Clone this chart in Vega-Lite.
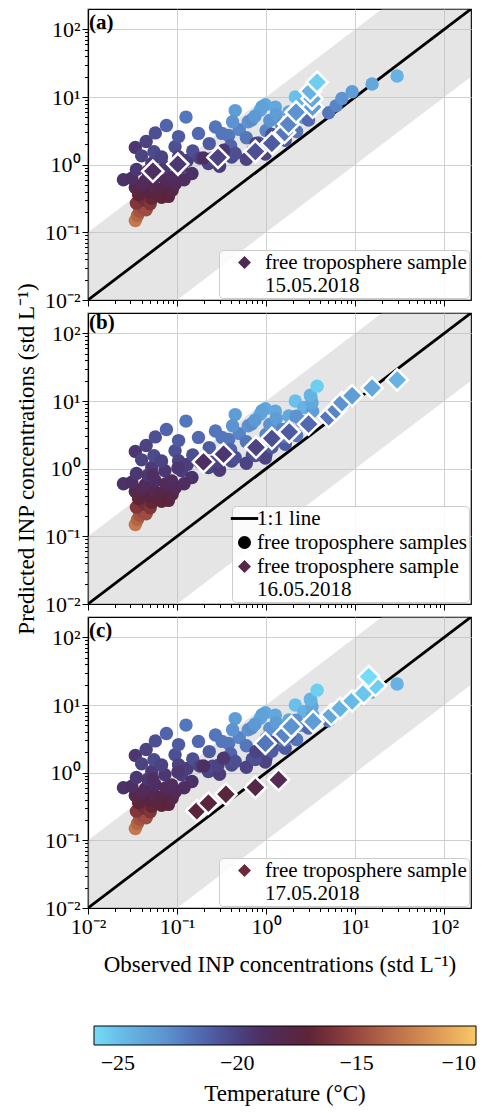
{
  "$schema": "https://vega.github.io/schema/vega-lite/v6.json",
  "background": "white",
  "padding": {"left": 14, "top": 8, "right": 5, "bottom": 5},
  "datasets": {
    "band": [{"obs": 0.01, "lo": 0.001, "hi": 0.1}, {"obs": 200, "lo": 20, "hi": 2000}],
    "diag": [{"obs": 0.01, "pred": 0.01}, {"obs": 200, "pred": 200}],
    "pts": [
      {"sample": "other", "obs": 0.034, "pred": 0.150, "T": -13},
      {"sample": "other", "obs": 0.036, "pred": 0.178, "T": -13.8},
      {"sample": "other", "obs": 0.038, "pred": 0.205, "T": -14.5},
      {"sample": "other", "obs": 0.041, "pred": 0.235, "T": -15},
      {"sample": "other", "obs": 0.045, "pred": 0.215, "T": -14.8},
      {"sample": "other", "obs": 0.035, "pred": 0.270, "T": -15.8},
      {"sample": "other", "obs": 0.043, "pred": 0.300, "T": -16.3},
      {"sample": "other", "obs": 0.050, "pred": 0.265, "T": -15.8},
      {"sample": "other", "obs": 0.052, "pred": 0.320, "T": -16.8},
      {"sample": "other", "obs": 0.037, "pred": 0.360, "T": -17},
      {"sample": "other", "obs": 0.046, "pred": 0.400, "T": -17.5},
      {"sample": "other", "obs": 0.060, "pred": 0.370, "T": -17.3},
      {"sample": "other", "obs": 0.067, "pred": 0.330, "T": -17},
      {"sample": "other", "obs": 0.034, "pred": 0.460, "T": -18},
      {"sample": "other", "obs": 0.041, "pred": 0.510, "T": -18.3},
      {"sample": "other", "obs": 0.055, "pred": 0.470, "T": -18},
      {"sample": "other", "obs": 0.070, "pred": 0.450, "T": -17.8},
      {"sample": "other", "obs": 0.080, "pred": 0.340, "T": -17.2},
      {"sample": "other", "obs": 0.088, "pred": 0.420, "T": -17.8},
      {"sample": "other", "obs": 0.095, "pred": 0.520, "T": -18.3},
      {"sample": "other", "obs": 0.025, "pred": 0.600, "T": -19.3},
      {"sample": "other", "obs": 0.031, "pred": 0.630, "T": -19},
      {"sample": "other", "obs": 0.044, "pred": 0.580, "T": -18.6},
      {"sample": "other", "obs": 0.057, "pred": 0.660, "T": -19},
      {"sample": "other", "obs": 0.075, "pred": 0.600, "T": -18.6},
      {"sample": "other", "obs": 0.087, "pred": 0.660, "T": -18.8},
      {"sample": "other", "obs": 0.047, "pred": 0.800, "T": -19.5},
      {"sample": "other", "obs": 0.035, "pred": 0.850, "T": -19.5},
      {"sample": "other", "obs": 0.073, "pred": 0.930, "T": -19.5},
      {"sample": "other", "obs": 0.113, "pred": 0.930, "T": -19.8},
      {"sample": "other", "obs": 0.147, "pred": 0.740, "T": -19.2},
      {"sample": "other", "obs": 0.120, "pred": 0.600, "T": -18.8},
      {"sample": "other", "obs": 0.052, "pred": 1.040, "T": -19.7},
      {"sample": "other", "obs": 0.034, "pred": 1.800, "T": -19.5},
      {"sample": "other", "obs": 0.045, "pred": 2.200, "T": -20},
      {"sample": "other", "obs": 0.057, "pred": 2.950, "T": -20.5},
      {"sample": "other", "obs": 0.076, "pred": 3.800, "T": -21.3},
      {"sample": "other", "obs": 0.126, "pred": 5.050, "T": -22},
      {"sample": "other", "obs": 0.040, "pred": 1.350, "T": -20},
      {"sample": "other", "obs": 0.055, "pred": 1.550, "T": -20.3},
      {"sample": "other", "obs": 0.067, "pred": 1.300, "T": -20},
      {"sample": "other", "obs": 0.095, "pred": 1.840, "T": -20.5},
      {"sample": "other", "obs": 0.104, "pred": 2.600, "T": -21},
      {"sample": "other", "obs": 0.104, "pred": 1.310, "T": -20},
      {"sample": "other", "obs": 0.130, "pred": 1.150, "T": -19.8},
      {"sample": "other", "obs": 0.150, "pred": 1.600, "T": -20.5},
      {"sample": "other", "obs": 0.174, "pred": 2.900, "T": -21.5},
      {"sample": "other", "obs": 0.225, "pred": 1.040, "T": -20},
      {"sample": "other", "obs": 0.230, "pred": 2.050, "T": -21},
      {"sample": "other", "obs": 0.270, "pred": 3.600, "T": -22},
      {"sample": "other", "obs": 0.320, "pred": 2.900, "T": -22},
      {"sample": "other", "obs": 0.250, "pred": 1.250, "T": -20.3},
      {"sample": "other", "obs": 0.410, "pred": 1.300, "T": -20.3},
      {"sample": "other", "obs": 0.380, "pred": 2.700, "T": -22},
      {"sample": "other", "obs": 0.400, "pred": 1.900, "T": -21.3},
      {"sample": "other", "obs": 0.450, "pred": 1.460, "T": -20.5},
      {"sample": "other", "obs": 0.500, "pred": 3.300, "T": -22.5},
      {"sample": "other", "obs": 0.450, "pred": 6.300, "T": -23.5},
      {"sample": "other", "obs": 0.420, "pred": 4.300, "T": -23},
      {"sample": "other", "obs": 0.630, "pred": 4.300, "T": -23},
      {"sample": "other", "obs": 0.690, "pred": 4.600, "T": -22.8},
      {"sample": "other", "obs": 0.600, "pred": 2.500, "T": -22},
      {"sample": "other", "obs": 0.700, "pred": 1.600, "T": -20.5},
      {"sample": "other", "obs": 0.820, "pred": 2.100, "T": -21},
      {"sample": "other", "obs": 0.860, "pred": 6.400, "T": -24},
      {"sample": "other", "obs": 0.980, "pred": 7.700, "T": -24},
      {"sample": "other", "obs": 0.900, "pred": 7.200, "T": -23.7},
      {"sample": "other", "obs": 0.750, "pred": 5.200, "T": -23.3},
      {"sample": "other", "obs": 1.000, "pred": 1.650, "T": -20.5},
      {"sample": "other", "obs": 1.000, "pred": 3.200, "T": -22.5},
      {"sample": "other", "obs": 1.100, "pred": 4.500, "T": -23},
      {"sample": "other", "obs": 1.270, "pred": 7.100, "T": -24},
      {"sample": "other", "obs": 1.300, "pred": 5.500, "T": -23.5},
      {"sample": "other", "obs": 1.200, "pred": 2.400, "T": -21.5},
      {"sample": "other", "obs": 1.640, "pred": 2.300, "T": -21},
      {"sample": "other", "obs": 1.500, "pred": 3.800, "T": -22.5},
      {"sample": "other", "obs": 1.800, "pred": 6.000, "T": -24},
      {"sample": "other", "obs": 2.130, "pred": 10.00, "T": -25},
      {"sample": "other", "obs": 2.640, "pred": 8.000, "T": -24.5},
      {"sample": "other", "obs": 2.500, "pred": 5.000, "T": -23.5},
      {"sample": "other", "obs": 3.200, "pred": 11.50, "T": -25},
      {"sample": "other", "obs": 2.200, "pred": 3.100, "T": -22},
      {"sample": "other", "obs": 0.300, "pred": 0.950, "T": -19.7},
      {"sample": "other", "obs": 0.180, "pred": 1.250, "T": -20},
      {"sample": "other", "obs": 0.600, "pred": 1.200, "T": -20},
      {"sample": "other", "obs": 0.980, "pred": 1.440, "T": -20},
      {"sample": "15.05.2018", "obs": 0.0535, "pred": 0.80, "T": -19},
      {"sample": "15.05.2018", "obs": 0.102, "pred": 1.02, "T": -19.5},
      {"sample": "15.05.2018", "obs": 0.288, "pred": 1.28, "T": -20},
      {"sample": "15.05.2018", "obs": 0.757, "pred": 1.57, "T": -20.5},
      {"sample": "15.05.2018", "obs": 1.16, "pred": 2.07, "T": -21},
      {"sample": "15.05.2018", "obs": 1.61, "pred": 3.0, "T": -22},
      {"sample": "15.05.2018", "obs": 1.79, "pred": 4.0, "T": -22.5},
      {"sample": "15.05.2018", "obs": 2.17, "pred": 5.96, "T": -23},
      {"sample": "15.05.2018", "obs": 3.33, "pred": 7.07, "T": -23.5},
      {"sample": "15.05.2018", "obs": 3.28, "pred": 9.4, "T": -24},
      {"sample": "15.05.2018", "obs": 3.14, "pred": 12.2, "T": -24.5},
      {"sample": "15.05.2018", "obs": 3.74, "pred": 16.6, "T": -25.5},
      {"sample": "16.05.2018", "obs": 0.198, "pred": 1.26, "T": -19},
      {"sample": "16.05.2018", "obs": 0.333, "pred": 1.64, "T": -19.5},
      {"sample": "16.05.2018", "obs": 0.77, "pred": 2.06, "T": -20},
      {"sample": "16.05.2018", "obs": 1.16, "pred": 2.8, "T": -20.5},
      {"sample": "16.05.2018", "obs": 1.82, "pred": 3.5, "T": -21},
      {"sample": "16.05.2018", "obs": 3.0, "pred": 4.57, "T": -21.5},
      {"sample": "16.05.2018", "obs": 5.05, "pred": 5.86, "T": -22},
      {"sample": "16.05.2018", "obs": 6.1, "pred": 7.4, "T": -22.5},
      {"sample": "16.05.2018", "obs": 7.1, "pred": 9.5, "T": -23},
      {"sample": "16.05.2018", "obs": 9.25, "pred": 12, "T": -23.5},
      {"sample": "16.05.2018", "obs": 15.5, "pred": 15.6, "T": -24},
      {"sample": "16.05.2018", "obs": 29.6, "pred": 20.5, "T": -24.5},
      {"sample": "17.05.2018", "obs": 0.167, "pred": 0.274, "T": -17.2},
      {"sample": "17.05.2018", "obs": 0.225, "pred": 0.355, "T": -17.2},
      {"sample": "17.05.2018", "obs": 0.354, "pred": 0.48, "T": -17.3},
      {"sample": "17.05.2018", "obs": 0.757, "pred": 0.605, "T": -17.8},
      {"sample": "17.05.2018", "obs": 1.38, "pred": 0.786, "T": -18.3},
      {"sample": "17.05.2018", "obs": 0.98, "pred": 2.72, "T": -22},
      {"sample": "17.05.2018", "obs": 1.61, "pred": 3.7, "T": -22.5},
      {"sample": "17.05.2018", "obs": 1.92, "pred": 4.8, "T": -23},
      {"sample": "17.05.2018", "obs": 3.37, "pred": 5.7, "T": -23.5},
      {"sample": "17.05.2018", "obs": 5.4, "pred": 7.2, "T": -24},
      {"sample": "17.05.2018", "obs": 6.8, "pred": 8.96, "T": -24.5},
      {"sample": "17.05.2018", "obs": 9.25, "pred": 11.5, "T": -24.8},
      {"sample": "17.05.2018", "obs": 12.5, "pred": 14.9, "T": -25.2},
      {"sample": "17.05.2018", "obs": 16.9, "pred": 19.4, "T": -25.5},
      {"sample": "17.05.2018", "obs": 14.2, "pred": 26.3, "T": -26}
    ]
  },
  "bounds": "flush",
  "spacing": 13,
  "resolve": {"scale": {"shape": "independent", "fill": "independent"}, "legend": {"shape": "independent", "fill": "independent"}},
  "vconcat": [
    {
      "width": 383, "height": 291,
      "title": {"text": "(a)", "anchor": "start", "frame": "group", "orient": "top", "offset": -2, "baseline": "top", "dx": 1, "dy": 22, "font": "Liberation Serif", "fontSize": 21, "fontWeight": "bold", "color": "black"},
      "layer": [
        {"data": {"name": "band"}, "mark": {"type": "area", "color": "#bfbfbf", "opacity": 0.4, "clip": true},
         "encoding": {
           "x": {"field": "obs", "type": "quantitative", "scale": {"type": "log", "domain": [0.01, 200], "nice": false},
                 "axis": {"values": [0.01,0.02,0.03,0.04,0.05,0.06,0.07,0.08,0.09,0.1,0.2,0.3,0.4,0.5,0.6,0.7,0.8,0.9,1,2,3,4,5,6,7,8,9,10,20,30,40,50,60,70,80,90,100], "labels": false, "title": null,
                          "tickSize": {"condition": {"test": "indexof([0.01,0.1,1,10,100], datum.value) >= 0", "value": 6}, "value": 3.5},
                          "gridOpacity": {"condition": {"test": "indexof([0.01,0.1,1,10,100], datum.value) >= 0", "value": 1}, "value": 0}}},
           "y": {"field": "lo", "type": "quantitative", "scale": {"type": "log", "domain": [0.01, 200], "nice": false},
                 "axis": {"values": [0.01,0.02,0.03,0.04,0.05,0.06,0.07,0.08,0.09,0.1,0.2,0.3,0.4,0.5,0.6,0.7,0.8,0.9,1,2,3,4,5,6,7,8,9,10,20,30,40,50,60,70,80,90,100], "title": null,
                          "labelExpr": "datum.value == 0.01 ? '10⁻²' : datum.value == 0.1 ? '10⁻¹' : datum.value == 1 ? '10⁰' : datum.value == 10 ? '10¹' : datum.value == 100 ? '10²' : ''",
                          "tickSize": {"condition": {"test": "indexof([0.01,0.1,1,10,100], datum.value) >= 0", "value": 6}, "value": 3.5},
                          "gridOpacity": {"condition": {"test": "indexof([0.01,0.1,1,10,100], datum.value) >= 0", "value": 1}, "value": 0}}},
           "y2": {"field": "hi"}
         }},
        {"data": {"name": "diag"}, "mark": {"type": "line", "color": "black", "strokeWidth": 2.8, "clip": true},
         "encoding": {"x": {"field": "obs", "type": "quantitative"}, "y": {"field": "pred", "type": "quantitative"}}},
        {"data": {"name": "pts"}, "transform": [{"filter": "datum.sample != '17.05.2018'"}],
         "mark": {"type": "point", "shape": "circle", "filled": true, "size": 180, "opacity": 1},
         "encoding": {"x": {"field": "obs", "type": "quantitative"}, "y": {"field": "pred", "type": "quantitative"},
           "color": {"field": "T", "type": "quantitative",
             "scale": {"domain": [-26, -24.5, -23, -21.5, -20.3, -19.2, -17.8, -17, -15.7, -14.3, -12.9, -11.5, -10],
                       "range": ["#74dcf8", "#66b2e2", "#5c93d0", "#5268b0", "#4a4a8c", "#4a3168", "#552748", "#5e2438", "#84383a", "#a85a44", "#c67a4e", "#e09c58", "#fac865"]},
             "legend": {"orient": "none", "direction": "horizontal", "legendX": 6, "legendY": 1017, "gradientLength": 382, "gradientThickness": 19,
                        "title": "Temperature (°C)", "titleOrient": "bottom", "titleAnchor": "middle", "titleFont": "Liberation Serif", "titleFontSize": 23, "titleFontWeight": "normal", "titleColor": "black", "titlePadding": 9,
                        "labelFont": "Liberation Serif", "labelFontSize": 22, "labelColor": "black", "values": [-25, -20, -15, -10], "labelAlign": "center", "labelOverlap": false, "labelOffset": 8,
                        "gradientStrokeColor": "black", "gradientStrokeWidth": 1}}}},
        {"data": {"name": "pts"}, "transform": [{"filter": "datum.sample == '15.05.2018'"}],
         "mark": {"type": "point", "shape": "diamond", "filled": true, "size": 450, "opacity": 1, "stroke": "white", "strokeWidth": 2.5},
         "encoding": {"x": {"field": "obs", "type": "quantitative"}, "y": {"field": "pred", "type": "quantitative"},
           "color": {"field": "T", "type": "quantitative"}}},
        {"data": {"name": "pts"}, "transform": [{"filter": "false"}],
         "mark": {"type": "point", "filled": true, "size": 170, "opacity": 1},
         "encoding": {"x": {"field": "obs", "type": "quantitative"}, "y": {"field": "pred", "type": "quantitative"},
           "shape": {"field": "sample", "type": "nominal", "scale": {"domain": ["15.05.2018"], "range": ["diamond"]},
             "legend": {"orient": "bottom-right", "offset": 2, "title": null, "labelFont": "Liberation Serif", "labelFontSize": 21, "labelColor": "black", "labelLimit": 0,
                        "labelExpr": "['free troposphere sample', datum.label]", "symbolSize": 170, "symbolOffset": 13, "labelOffset": 10, "fillColor": "rgba(255,255,255,0.85)", "strokeColor": "#cccccc", "cornerRadius": 4, "padding": 2}},
           "fill": {"field": "sample", "type": "nominal", "scale": {"domain": ["15.05.2018"], "range": ["#4e2a55"]},
             "legend": {"orient": "bottom-right", "offset": 2, "title": null, "labelFont": "Liberation Serif", "labelFontSize": 21, "labelColor": "black", "labelLimit": 0,
                        "labelExpr": "['free troposphere sample', datum.label]", "symbolSize": 170, "symbolOffset": 13, "labelOffset": 10, "fillColor": "rgba(255,255,255,0.85)", "strokeColor": "#cccccc", "cornerRadius": 4, "padding": 2}}}}
      ]
    },
    {
      "width": 383, "height": 291,
      "title": {"text": "(b)", "anchor": "start", "frame": "group", "orient": "top", "offset": -2, "baseline": "top", "dx": 1, "dy": 49, "font": "Liberation Serif", "fontSize": 21, "fontWeight": "bold", "color": "black"},
      "layer": [
        {"data": {"name": "band"}, "mark": {"type": "area", "color": "#bfbfbf", "opacity": 0.4, "clip": true},
         "encoding": {
           "x": {"field": "obs", "type": "quantitative", "scale": {"type": "log", "domain": [0.01, 200], "nice": false},
                 "axis": {"values": [0.01,0.02,0.03,0.04,0.05,0.06,0.07,0.08,0.09,0.1,0.2,0.3,0.4,0.5,0.6,0.7,0.8,0.9,1,2,3,4,5,6,7,8,9,10,20,30,40,50,60,70,80,90,100], "labels": false, "title": null,
                          "tickSize": {"condition": {"test": "indexof([0.01,0.1,1,10,100], datum.value) >= 0", "value": 6}, "value": 3.5},
                          "gridOpacity": {"condition": {"test": "indexof([0.01,0.1,1,10,100], datum.value) >= 0", "value": 1}, "value": 0}}},
           "y": {"field": "lo", "type": "quantitative", "scale": {"type": "log", "domain": [0.01, 200], "nice": false},
                 "axis": {"values": [0.01,0.02,0.03,0.04,0.05,0.06,0.07,0.08,0.09,0.1,0.2,0.3,0.4,0.5,0.6,0.7,0.8,0.9,1,2,3,4,5,6,7,8,9,10,20,30,40,50,60,70,80,90,100], "title": "Predicted INP concentrations (std L⁻¹)",
                          "labelExpr": "datum.value == 0.01 ? '10⁻²' : datum.value == 0.1 ? '10⁻¹' : datum.value == 1 ? '10⁰' : datum.value == 10 ? '10¹' : datum.value == 100 ? '10²' : ''",
                          "tickSize": {"condition": {"test": "indexof([0.01,0.1,1,10,100], datum.value) >= 0", "value": 6}, "value": 3.5},
                          "gridOpacity": {"condition": {"test": "indexof([0.01,0.1,1,10,100], datum.value) >= 0", "value": 1}, "value": 0}}},
           "y2": {"field": "hi"}
         }},
        {"data": {"name": "diag"}, "mark": {"type": "line", "color": "black", "strokeWidth": 2.8, "clip": true},
         "encoding": {"x": {"field": "obs", "type": "quantitative"}, "y": {"field": "pred", "type": "quantitative"}}},
        {"data": {"name": "pts"}, "transform": [{"filter": "datum.sample != '17.05.2018'"}],
         "mark": {"type": "point", "shape": "circle", "filled": true, "size": 180, "opacity": 1},
         "encoding": {"x": {"field": "obs", "type": "quantitative"}, "y": {"field": "pred", "type": "quantitative"},
           "color": {"field": "T", "type": "quantitative"}}},
        {"data": {"name": "pts"}, "transform": [{"filter": "datum.sample == '16.05.2018'"}],
         "mark": {"type": "point", "shape": "diamond", "filled": true, "size": 450, "opacity": 1, "stroke": "white", "strokeWidth": 2.5},
         "encoding": {"x": {"field": "obs", "type": "quantitative"}, "y": {"field": "pred", "type": "quantitative"},
           "color": {"field": "T", "type": "quantitative"}}},
        {"data": {"name": "pts"}, "transform": [{"filter": "false"}],
         "mark": {"type": "point", "filled": true, "size": 170, "opacity": 1},
         "encoding": {"x": {"field": "obs", "type": "quantitative"}, "y": {"field": "pred", "type": "quantitative"},
           "shape": {"field": "sample", "type": "nominal", "scale": {"domain": ["1:1 line", "free troposphere samples", "16.05.2018"], "range": ["M-2.1,-0.22L2.1,-0.22L2.1,0.22L-2.1,0.22Z", "circle", "diamond"]},
             "legend": {"orient": "bottom-right", "offset": 2, "title": null, "labelFont": "Liberation Serif", "labelFontSize": 21, "labelColor": "black", "labelLimit": 0,
                        "labelExpr": "datum.label == '16.05.2018' ? ['free troposphere sample', datum.label] : datum.label", "symbolSize": 170, "symbolOffset": 0, "labelOffset": 2, "rowPadding": 2, "fillColor": "rgba(255,255,255,0.85)", "strokeColor": "#cccccc", "cornerRadius": 4, "padding": 2}},
           "fill": {"field": "sample", "type": "nominal", "scale": {"domain": ["1:1 line", "free troposphere samples", "16.05.2018"], "range": ["black", "black", "#552848"]},
             "legend": {"orient": "bottom-right", "offset": 2, "title": null, "labelFont": "Liberation Serif", "labelFontSize": 21, "labelColor": "black", "labelLimit": 0,
                        "labelExpr": "datum.label == '16.05.2018' ? ['free troposphere sample', datum.label] : datum.label", "symbolSize": 170, "symbolOffset": 0, "labelOffset": 2, "rowPadding": 2, "fillColor": "rgba(255,255,255,0.85)", "strokeColor": "#cccccc", "cornerRadius": 4, "padding": 2}}}}
      ]
    },
    {
      "width": 383, "height": 291,
      "title": {"text": "(c)", "anchor": "start", "frame": "group", "orient": "top", "offset": -2, "baseline": "top", "dx": 1, "dy": 22, "font": "Liberation Serif", "fontSize": 21, "fontWeight": "bold", "color": "black"},
      "layer": [
        {"data": {"name": "band"}, "mark": {"type": "area", "color": "#bfbfbf", "opacity": 0.4, "clip": true},
         "encoding": {
           "x": {"field": "obs", "type": "quantitative", "scale": {"type": "log", "domain": [0.01, 200], "nice": false},
                 "axis": {"values": [0.01,0.02,0.03,0.04,0.05,0.06,0.07,0.08,0.09,0.1,0.2,0.3,0.4,0.5,0.6,0.7,0.8,0.9,1,2,3,4,5,6,7,8,9,10,20,30,40,50,60,70,80,90,100], "title": "Observed INP concentrations (std L⁻¹)", "titlePadding": 16,
                          "labelExpr": "datum.value == 0.01 ? '10⁻²' : datum.value == 0.1 ? '10⁻¹' : datum.value == 1 ? '10⁰' : datum.value == 10 ? '10¹' : datum.value == 100 ? '10²' : ''",
                          "tickSize": {"condition": {"test": "indexof([0.01,0.1,1,10,100], datum.value) >= 0", "value": 6}, "value": 3.5},
                          "gridOpacity": {"condition": {"test": "indexof([0.01,0.1,1,10,100], datum.value) >= 0", "value": 1}, "value": 0}}},
           "y": {"field": "lo", "type": "quantitative", "scale": {"type": "log", "domain": [0.01, 200], "nice": false},
                 "axis": {"values": [0.01,0.02,0.03,0.04,0.05,0.06,0.07,0.08,0.09,0.1,0.2,0.3,0.4,0.5,0.6,0.7,0.8,0.9,1,2,3,4,5,6,7,8,9,10,20,30,40,50,60,70,80,90,100], "title": null,
                          "labelExpr": "datum.value == 0.01 ? '10⁻²' : datum.value == 0.1 ? '10⁻¹' : datum.value == 1 ? '10⁰' : datum.value == 10 ? '10¹' : datum.value == 100 ? '10²' : ''",
                          "tickSize": {"condition": {"test": "indexof([0.01,0.1,1,10,100], datum.value) >= 0", "value": 6}, "value": 3.5},
                          "gridOpacity": {"condition": {"test": "indexof([0.01,0.1,1,10,100], datum.value) >= 0", "value": 1}, "value": 0}}},
           "y2": {"field": "hi"}
         }},
        {"data": {"name": "diag"}, "mark": {"type": "line", "color": "black", "strokeWidth": 2.8, "clip": true},
         "encoding": {"x": {"field": "obs", "type": "quantitative"}, "y": {"field": "pred", "type": "quantitative"}}},
        {"data": {"name": "pts"}, "transform": [{"filter": "datum.sample != '17.05.2018'"}],
         "mark": {"type": "point", "shape": "circle", "filled": true, "size": 180, "opacity": 1},
         "encoding": {"x": {"field": "obs", "type": "quantitative"}, "y": {"field": "pred", "type": "quantitative"},
           "color": {"field": "T", "type": "quantitative"}}},
        {"data": {"name": "pts"}, "transform": [{"filter": "datum.sample == '17.05.2018'"}],
         "mark": {"type": "point", "shape": "diamond", "filled": true, "size": 450, "opacity": 1, "stroke": "white", "strokeWidth": 2.5},
         "encoding": {"x": {"field": "obs", "type": "quantitative"}, "y": {"field": "pred", "type": "quantitative"},
           "color": {"field": "T", "type": "quantitative"}}},
        {"data": {"name": "pts"}, "transform": [{"filter": "false"}],
         "mark": {"type": "point", "filled": true, "size": 170, "opacity": 1},
         "encoding": {"x": {"field": "obs", "type": "quantitative"}, "y": {"field": "pred", "type": "quantitative"},
           "shape": {"field": "sample", "type": "nominal", "scale": {"domain": ["17.05.2018"], "range": ["diamond"]},
             "legend": {"orient": "bottom-right", "offset": 2, "title": null, "labelFont": "Liberation Serif", "labelFontSize": 21, "labelColor": "black", "labelLimit": 0,
                        "labelExpr": "['free troposphere sample', datum.label]", "symbolSize": 170, "symbolOffset": 13, "labelOffset": 10, "fillColor": "rgba(255,255,255,0.85)", "strokeColor": "#cccccc", "cornerRadius": 4, "padding": 2}},
           "fill": {"field": "sample", "type": "nominal", "scale": {"domain": ["17.05.2018"], "range": ["#6a2a3a"]},
             "legend": {"orient": "bottom-right", "offset": 2, "title": null, "labelFont": "Liberation Serif", "labelFontSize": 21, "labelColor": "black", "labelLimit": 0,
                        "labelExpr": "['free troposphere sample', datum.label]", "symbolSize": 170, "symbolOffset": 13, "labelOffset": 10, "fillColor": "rgba(255,255,255,0.85)", "strokeColor": "#cccccc", "cornerRadius": 4, "padding": 2}}}}
      ]
    }
  ],
  "config": {
    "view": {"stroke": "black", "strokeWidth": 1.2},
    "axis": {"grid": true, "gridColor": "#d0d0d0", "gridWidth": 1, "domainColor": "black", "domainWidth": 1.2, "tickColor": "black", "tickWidth": 1,
             "labelFont": "Liberation Serif", "labelFontSize": 22, "labelColor": "black", "labelPadding": 2, "labelOverlap": false, "labelFlush": false,
             "titleFont": "Liberation Serif", "titleFontSize": 23, "titleFontWeight": "normal", "titleColor": "black", "titlePadding": 6}
  }
}
